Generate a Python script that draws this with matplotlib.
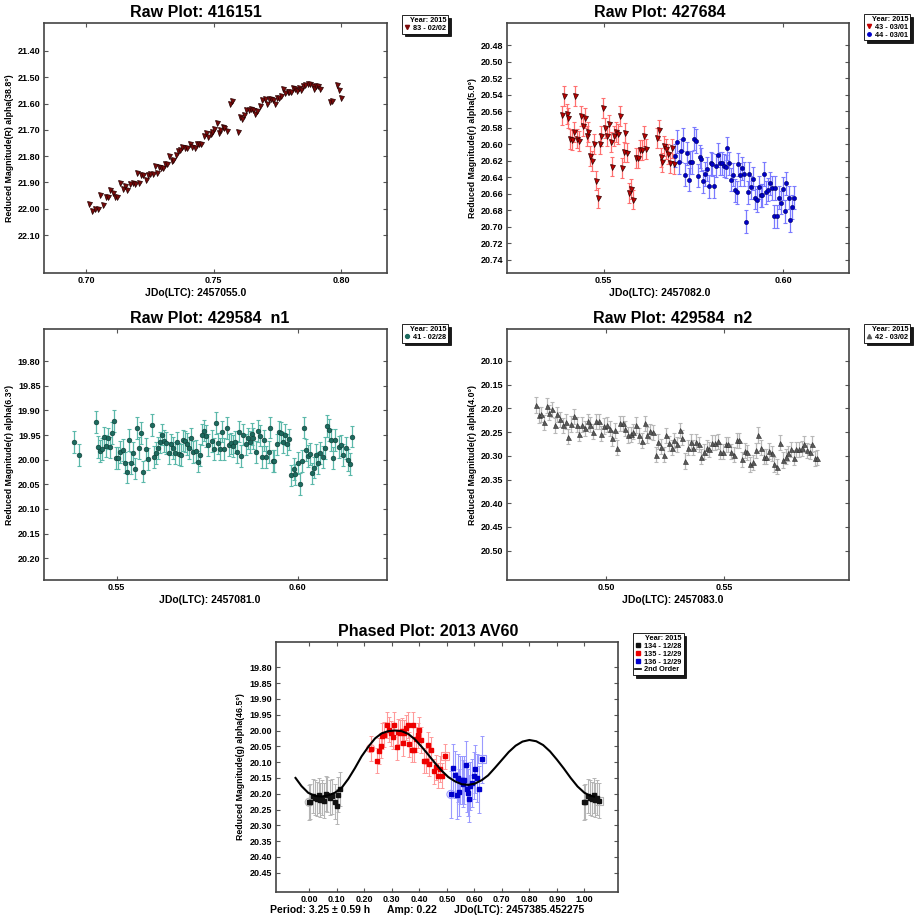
import numpy as np
import matplotlib
matplotlib.use('Agg')
import matplotlib.pyplot as plt
from matplotlib.lines import Line2D

plt.rcParams['font.family'] = ['Liberation Sans', 'DejaVu Sans']
plt.rcParams['font.weight'] = 'bold'
plt.rcParams['axes.labelweight'] = 'bold'
plt.rcParams['axes.titleweight'] = 'bold'

# ---------------- data ----------------
# panel 1 : 416151, session 83 - 02/02
p1_jd = [0.7013, 0.7023, 0.7034, 0.7046, 0.7055, 0.7068, 0.7078, 0.7086, 0.7095, 0.7104,
         0.7114, 0.7123, 0.7133, 0.7144, 0.7153, 0.7159, 0.7172, 0.7183, 0.7192, 0.7201,
         0.7209, 0.7215, 0.7225, 0.7234, 0.7242, 0.7251, 0.7261, 0.7270, 0.7277, 0.7286,
         0.7292, 0.7300, 0.7309, 0.7316, 0.7326, 0.7335, 0.7342, 0.7352, 0.7359, 0.7368,
         0.7376, 0.7388, 0.7397, 0.7407, 0.7416, 0.7426, 0.7433, 0.7443, 0.7452, 0.7461,
         0.7470, 0.7479, 0.7488, 0.7495, 0.7503, 0.7513, 0.7520, 0.7527, 0.7535, 0.7542,
         0.7551, 0.7564, 0.7573, 0.7597, 0.7603, 0.7612, 0.7621, 0.7629, 0.7638, 0.7645,
         0.7655, 0.7663, 0.7671, 0.7681, 0.7689, 0.7700, 0.7708, 0.7718, 0.7726, 0.7734,
         0.7742, 0.7749, 0.7757, 0.7764, 0.7773, 0.7781, 0.7790, 0.7796, 0.7805, 0.7812,
         0.7821, 0.7828, 0.7833, 0.7841, 0.7851, 0.7860, 0.7869, 0.7880, 0.7888, 0.7893,
         0.7901, 0.7910, 0.7919, 0.7956, 0.7966, 0.7982, 0.7990, 0.8000]
p1_mag = [21.983, 22.010, 22.001, 22.001, 21.947, 21.986, 21.955, 21.955, 21.928, 21.940,
          21.955, 21.955, 21.901, 21.926, 21.912, 21.929, 21.905, 21.902, 21.905, 21.864,
          21.902, 21.873, 21.872, 21.892, 21.872, 21.867, 21.867, 21.839, 21.864, 21.841,
          21.845, 21.845, 21.831, 21.829, 21.801, 21.818, 21.816, 21.794, 21.782, 21.778,
          21.766, 21.768, 21.768, 21.753, 21.764, 21.768, 21.753, 21.755, 21.755, 21.725,
          21.712, 21.727, 21.717, 21.708, 21.695, 21.675, 21.711, 21.699, 21.690, 21.693,
          21.706, 21.603, 21.590, 21.708, 21.651, 21.657, 21.645, 21.626, 21.623, 21.621,
          21.626, 21.638, 21.628, 21.611, 21.588, 21.584, 21.603, 21.583, 21.583, 21.588,
          21.600, 21.579, 21.578, 21.570, 21.543, 21.560, 21.557, 21.555, 21.557, 21.542,
          21.545, 21.553, 21.542, 21.550, 21.534, 21.531, 21.527, 21.527, 21.532, 21.543,
          21.534, 21.532, 21.543, 21.594, 21.590, 21.531, 21.547, 21.578]

# panel 2 : 427684, sessions 43 and 44 - 03/01
p2a_jd = [0.5385, 0.5391, 0.5397, 0.5402, 0.5406, 0.5411, 0.5417, 0.5421, 0.5427, 0.5432,
          0.5437, 0.5442, 0.5447, 0.5453, 0.5457, 0.5463, 0.5468, 0.5473, 0.5479, 0.5483,
          0.5490, 0.5494, 0.5499, 0.5505, 0.5509, 0.5515, 0.5520, 0.5524, 0.5530, 0.5535,
          0.5540, 0.5545, 0.5550, 0.5556, 0.5560, 0.5565, 0.5571, 0.5576, 0.5581, 0.5590,
          0.5596, 0.5601, 0.5607, 0.5612, 0.5618, 0.5649, 0.5654, 0.5659, 0.5663, 0.5669,
          0.5673, 0.5679, 0.5684, 0.5690, 0.5695]
p2a_mag = [20.565, 20.541, 20.563, 20.568, 20.594, 20.595, 20.585, 20.541, 20.593, 20.596,
           20.566, 20.578, 20.568, 20.590, 20.585, 20.614, 20.620, 20.600, 20.644, 20.665,
           20.600, 20.590, 20.556, 20.580, 20.590, 20.576, 20.597, 20.627, 20.590, 20.585,
           20.588, 20.566, 20.629, 20.609, 20.586, 20.610, 20.659, 20.654, 20.667, 20.617,
           20.617, 20.607, 20.607, 20.590, 20.606, 20.592, 20.583, 20.616, 20.622, 20.602,
           20.606, 20.612, 20.623, 20.605, 20.624]
p2b_jd = [0.5700, 0.5705, 0.5710, 0.5715, 0.5721, 0.5726, 0.5731, 0.5737, 0.5741, 0.5747,
          0.5752, 0.5757, 0.5763, 0.5767, 0.5772, 0.5777, 0.5783, 0.5788, 0.5792, 0.5799,
          0.5803, 0.5808, 0.5814, 0.5819, 0.5824, 0.5829, 0.5834, 0.5840, 0.5844, 0.5850,
          0.5854, 0.5859, 0.5865, 0.5870, 0.5875, 0.5880, 0.5885, 0.5891, 0.5896, 0.5901,
          0.5905, 0.5911, 0.5917, 0.5921, 0.5927, 0.5932, 0.5937, 0.5942, 0.5947, 0.5952,
          0.5957, 0.5963, 0.5968, 0.5973, 0.5978, 0.5983, 0.5989, 0.5994, 0.5999, 0.6005,
          0.6009, 0.6015, 0.6020, 0.6025, 0.6031]
p2b_mag = [20.614, 20.597, 20.622, 20.608, 20.594, 20.637, 20.611, 20.643, 20.622, 20.622,
           20.593, 20.596, 20.638, 20.615, 20.618, 20.645, 20.636, 20.630, 20.651, 20.623,
           20.624, 20.651, 20.626, 20.613, 20.623, 20.623, 20.626, 20.627, 20.605, 20.623,
           20.643, 20.637, 20.656, 20.658, 20.624, 20.637, 20.629, 20.636, 20.694, 20.658,
           20.636, 20.652, 20.642, 20.665, 20.668, 20.652, 20.662, 20.662, 20.636, 20.658,
           20.655, 20.647, 20.653, 20.687, 20.653, 20.687, 20.665, 20.671, 20.654, 20.681,
           20.647, 20.665, 20.692, 20.676, 20.665]
p2a_err = 0.012
p2b_err = 0.014

# panel 3 : 429584 n1, session 41 - 02/28
p3_jd = [0.5383, 0.5395, 0.5442, 0.5448, 0.5453, 0.5459, 0.5464, 0.5470, 0.5475, 0.5482,
         0.5487, 0.5493, 0.5498, 0.5504, 0.5510, 0.5516, 0.5522, 0.5528, 0.5533, 0.5540,
         0.5545, 0.5550, 0.5557, 0.5562, 0.5568, 0.5574, 0.5580, 0.5586, 0.5597, 0.5602,
         0.5609, 0.5614, 0.5620, 0.5626, 0.5632, 0.5637, 0.5644, 0.5650, 0.5655, 0.5660,
         0.5667, 0.5672, 0.5678, 0.5683, 0.5689, 0.5694, 0.5701, 0.5706, 0.5712, 0.5718,
         0.5724, 0.5729, 0.5735, 0.5741, 0.5747, 0.5752, 0.5764, 0.5770, 0.5775, 0.5781,
         0.5786, 0.5792, 0.5797, 0.5804, 0.5809, 0.5815, 0.5821, 0.5827, 0.5832, 0.5839,
         0.5844, 0.5850, 0.5856, 0.5862, 0.5867, 0.5873, 0.5878, 0.5885, 0.5890, 0.5896,
         0.5902, 0.5908, 0.5913, 0.5920, 0.5925, 0.5931, 0.5936, 0.5943, 0.5948, 0.5954,
         0.5959, 0.5965, 0.5971, 0.5977, 0.5983, 0.5989, 0.5994, 0.6000, 0.6006, 0.6011,
         0.6017, 0.6023, 0.6029, 0.6034, 0.6041, 0.6046, 0.6052, 0.6057, 0.6063, 0.6069,
         0.6075, 0.6080, 0.6087, 0.6092, 0.6098, 0.6103, 0.6115, 0.6121, 0.6126, 0.6133,
         0.6138, 0.6144, 0.6150]
p3_mag = [19.964, 19.991, 19.923, 19.974, 19.982, 19.978, 19.955, 19.972, 19.957, 19.975,
          19.946, 19.921, 19.997, 19.997, 19.985, 19.980, 20.006, 20.026, 19.960, 20.007,
          19.987, 20.018, 19.936, 19.977, 19.946, 20.024, 19.978, 19.999, 19.930, 19.994,
          19.987, 19.977, 19.965, 19.949, 19.962, 19.966, 19.987, 19.969, 19.976, 19.987,
          19.965, 19.989, 19.991, 19.961, 19.963, 19.968, 19.977, 19.957, 19.984, 19.982,
          20.004, 19.991, 19.949, 19.941, 19.952, 19.970, 19.962, 19.978, 19.926, 19.967,
          19.978, 19.943, 19.978, 19.936, 19.970, 19.967, 19.972, 19.964, 19.984, 19.943,
          19.992, 19.949, 19.969, 19.957, 19.964, 19.948, 19.957, 19.985, 19.942, 19.951,
          19.995, 19.961, 19.994, 19.984, 19.935, 20.003, 20.003, 19.969, 19.943, 19.945,
          19.965, 19.949, 19.969, 19.959, 20.032, 20.019, 20.030, 20.007, 20.049, 20.003,
          19.935, 19.980, 19.992, 19.989, 20.028, 20.016, 19.991, 20.007, 19.986, 19.994,
          19.976, 19.932, 19.940, 19.960, 19.997, 19.960, 19.974, 19.971, 19.991, 19.976,
          20.000, 20.009, 19.953]
p3_err = 0.022

# panel 4 : 429584 n2, session 42 - 03/02
p4_jd = [0.4703, 0.4714, 0.4724, 0.4737, 0.4748, 0.4759, 0.4771, 0.4782, 0.4793, 0.4805,
         0.4817, 0.4829, 0.4840, 0.4853, 0.4864, 0.4875, 0.4887, 0.4898, 0.4911, 0.4922,
         0.4933, 0.4945, 0.4956, 0.4969, 0.4980, 0.4992, 0.5003, 0.5016, 0.5025, 0.5037,
         0.5048, 0.5059, 0.5072, 0.5082, 0.5093, 0.5105, 0.5116, 0.5129, 0.5140, 0.5152,
         0.5163, 0.5174, 0.5186, 0.5197, 0.5210, 0.5221, 0.5232, 0.5244, 0.5255, 0.5266,
         0.5278, 0.5289, 0.5300, 0.5313, 0.5324, 0.5336, 0.5347, 0.5358, 0.5370, 0.5381,
         0.5392, 0.5404, 0.5415, 0.5426, 0.5438, 0.5450, 0.5462, 0.5473, 0.5484, 0.5496,
         0.5507, 0.5518, 0.5530, 0.5541, 0.5554, 0.5565, 0.5576, 0.5588, 0.5599, 0.5612,
         0.5623, 0.5635, 0.5646, 0.5657, 0.5669, 0.5680, 0.5691, 0.5703, 0.5714, 0.5725,
         0.5738, 0.5749, 0.5761, 0.5772, 0.5783, 0.5795, 0.5806, 0.5817, 0.5829, 0.5840,
         0.5851, 0.5863, 0.5874, 0.5885, 0.5896]
p4_mag = [20.193, 20.214, 20.212, 20.229, 20.194, 20.209, 20.202, 20.236, 20.212, 20.223,
          20.236, 20.228, 20.260, 20.233, 20.217, 20.234, 20.253, 20.234, 20.242, 20.227,
          20.234, 20.249, 20.227, 20.227, 20.253, 20.237, 20.234, 20.243, 20.263, 20.246,
          20.283, 20.231, 20.231, 20.243, 20.256, 20.255, 20.249, 20.235, 20.257, 20.268,
          20.231, 20.256, 20.248, 20.250, 20.298, 20.270, 20.281, 20.298, 20.257, 20.274,
          20.283, 20.267, 20.276, 20.246, 20.262, 20.311, 20.283, 20.270, 20.283, 20.270,
          20.276, 20.302, 20.291, 20.283, 20.286, 20.272, 20.272, 20.269, 20.291, 20.291,
          20.276, 20.276, 20.291, 20.298, 20.267, 20.267, 20.307, 20.289, 20.293, 20.318,
          20.314, 20.288, 20.256, 20.283, 20.302, 20.302, 20.290, 20.295, 20.318, 20.323,
          20.272, 20.309, 20.302, 20.295, 20.286, 20.304, 20.286, 20.286, 20.284, 20.275,
          20.288, 20.291, 20.275, 20.305, 20.304]
p4_err = 0.016

# panel 5 : phased plot 2013 AV60
black_phase = [0.000, 0.003, 0.012, 0.021, 0.027, 0.034, 0.039, 0.045, 0.054, 0.061,
               0.066, 0.076, 0.084, 0.093, 0.099, 0.105, 0.111]
black_mag = [20.227, 20.225, 20.207, 20.212, 20.217, 20.205, 20.220, 20.212, 20.222, 20.200,
             20.203, 20.212, 20.208, 20.225, 20.240, 20.203, 20.185]
red_phase = [0.223, 0.245, 0.253, 0.261, 0.265, 0.273, 0.284, 0.290, 0.297, 0.303,
             0.308, 0.318, 0.324, 0.330, 0.336, 0.341, 0.345, 0.352, 0.358, 0.364,
             0.372, 0.377, 0.382, 0.387, 0.394, 0.400, 0.405, 0.417, 0.423, 0.430,
             0.435, 0.441, 0.452, 0.459, 0.467, 0.474, 0.481, 0.493]
red_mag = [20.057, 20.096, 20.065, 20.048, 20.017, 20.013, 19.983, 19.997, 20.009, 20.020,
           19.981, 20.053, 20.004, 20.007, 20.001, 20.041, 20.007, 19.991, 19.983, 20.044,
           20.061, 19.981, 20.061, 20.028, 20.015, 19.997, 20.030, 20.095, 20.095, 20.046,
           20.105, 20.061, 20.129, 20.116, 20.143, 20.122, 20.143, 20.082]
blue_phase = [0.515, 0.521, 0.530, 0.536, 0.542, 0.545, 0.548, 0.554, 0.558, 0.562,
              0.568, 0.572, 0.578, 0.582, 0.584, 0.590, 0.599, 0.602, 0.609, 0.617, 0.629]
blue_mag = [20.202, 20.119, 20.140, 20.205, 20.150, 20.196, 20.157, 20.157, 20.168, 20.157,
            20.108, 20.184, 20.197, 20.216, 20.176, 20.166, 20.143, 20.122, 20.150, 20.186, 20.091]
black_err = 0.055
red_err = 0.040
blue_err = 0.075

fit_phase = [-0.050, -0.028, -0.004, 0.021, 0.045, 0.069, 0.093, 0.118, 0.142, 0.166,
             0.190, 0.215, 0.239, 0.263, 0.287, 0.312, 0.336, 0.360, 0.384, 0.408,
             0.433, 0.457, 0.481, 0.505, 0.530, 0.554, 0.578, 0.602, 0.627, 0.650,
             0.675, 0.700, 0.725, 0.750, 0.775, 0.800, 0.825, 0.850, 0.875, 0.900,
             0.925, 0.950, 0.975, 1.000, 1.020, 1.035]
fit_mag = [20.150, 20.176, 20.197, 20.207, 20.209, 20.205, 20.197, 20.181, 20.153, 20.119,
           20.082, 20.051, 20.025, 20.009, 20.002, 20.000, 20.002, 20.011, 20.028, 20.051,
           20.077, 20.103, 20.127, 20.147, 20.161, 20.170, 20.172, 20.168, 20.157, 20.142,
           20.118, 20.093, 20.068, 20.048, 20.035, 20.030, 20.034, 20.046, 20.066, 20.092,
           20.120, 20.150, 20.177, 20.197, 20.206, 20.209]

W, H = 919, 922
fig = plt.figure(figsize=(W / 100, H / 100), dpi=100)


def box(l, t, r, b):
    return fig.add_axes([l / W, 1 - b / H, (r - l) / W, (b - t) / H])


def style(ax, xlim, ylim, xticks, yticks, title, tx, ylabel, xlabel=None):
    ax.set_xlim(xlim)
    ax.set_ylim(ylim)
    ax.set_xticks(xticks)
    ax.set_xticklabels(['%.2f' % v for v in xticks])
    ax.set_yticks(yticks)
    ax.set_yticklabels(['%.2f' % v for v in yticks])
    ax.tick_params(direction='in', top=True, right=True, length=3, width=0.8,
                   labelsize=6.5, pad=2.5, color='#555555')
    for s in ax.spines.values():
        s.set_linewidth(1.2)
        s.set_color('#444444')
    ax.set_title(title, fontsize=11.5, fontweight='heavy', x=tx, pad=4)
    ax.set_ylabel(ylabel, fontsize=6.3)
    ax.yaxis.set_label_coords(-0.088, 0.5)
    if xlabel:
        ax.set_xlabel(xlabel, fontsize=7.5)
        ax.xaxis.set_label_coords(tx, -0.058)


def legend(ax, handles, x, y):
    leg = ax.legend(handles=handles, title='Year: 2015', loc='upper left',
                    bbox_to_anchor=(x / W, 1 - y / H), bbox_transform=fig.transFigure,
                    fontsize=5.3, title_fontsize=5.3, frameon=True, fancybox=False,
                    shadow={'color': 'black', 'alpha': 0.9}, borderpad=0.25,
                    handlelength=0.9, handletextpad=0.4, labelspacing=0.1,
                    borderaxespad=0, alignment='right')
    leg.get_frame().set_edgecolor('black')
    leg.get_frame().set_linewidth(0.6)
    return leg


# ---- panel 1
ax1 = box(44, 23, 387, 273)
ax1.plot(p1_jd, p1_mag, 'v', ms=3.6, color='#7a0a0a', mec='#220000', mew=0.5)
style(ax1, (0.6835, 0.818), (22.244, 21.294), [0.70, 0.75, 0.80],
      np.arange(21.40, 22.15, 0.10), 'Raw Plot: 416151', 0.443,
      'Reduced Magnitude(R) alpha(38.8°)', 'JDo(LTC): 2457055.0')
legend(ax1, [Line2D([], [], marker='v', ls='none', color='#7a0a0a', ms=3, label='83 - 02/02')],
       402, 15)

# ---- panel 2
ax2 = box(507, 23, 849, 273)
ax2.errorbar(p2a_jd, p2a_mag, yerr=p2a_err, fmt='none', ecolor='#ff7070',
             elinewidth=0.9, capsize=1.6, capthick=0.8)
ax2.errorbar(p2b_jd, p2b_mag, yerr=p2b_err, fmt='none', ecolor='#7a7aff',
             elinewidth=0.9, capsize=1.6, capthick=0.8)
ax2.plot(p2a_jd, p2a_mag, 'v', ms=3.6, color='#c00000', mec='#300000', mew=0.5)
ax2.plot(p2b_jd, p2b_mag, 'o', ms=3.0, color='#0000c8', mec='#000060', mew=0.4)
style(ax2, (0.5231, 0.6183), (20.756, 20.453), [0.55, 0.60],
      np.arange(20.48, 20.745, 0.02), 'Raw Plot: 427684', 0.446,
      'Reduced Magnitude(r) alpha(5.0°)', 'JDo(LTC): 2457082.0')
legend(ax2, [Line2D([], [], marker='v', ls='none', color='#c00000', ms=3, label='43 - 03/01'),
             Line2D([], [], marker='o', ls='none', color='#0000c8', ms=2.5, label='44 - 03/01')],
       864, 14)

# ---- panel 3
ax3 = box(44, 329, 387, 580)
ax3.errorbar(p3_jd, p3_mag, yerr=p3_err, fmt='none', ecolor='#5bb8aa',
             elinewidth=0.9, capsize=1.6, capthick=0.8)
ax3.plot(p3_jd, p3_mag, 'o', ms=3.4, color='#1c6a5e', mec='#0d3a33', mew=0.4)
style(ax3, (0.5299, 0.6247), (20.244, 19.735), [0.55, 0.60],
      np.arange(19.80, 20.225, 0.05), 'Raw Plot: 429584  n1', 0.484,
      'Reduced Magnitude(r) alpha(6.3°)', 'JDo(LTC): 2457081.0')
legend(ax3, [Line2D([], [], marker='o', ls='none', color='#1c6a5e', ms=2.8, label='41 - 02/28')],
       402, 324)

# ---- panel 4
ax4 = box(507, 329, 849, 580)
ax4.errorbar(p4_jd, p4_mag, yerr=p4_err, fmt='none', ecolor='#b8b8b8',
             elinewidth=0.9, capsize=1.6, capthick=0.8)
ax4.plot(p4_jd, p4_mag, '^', ms=3.6, color='#595959', mec='#2a2a2a', mew=0.4)
style(ax4, (0.458, 0.603), (20.562, 20.0325), [0.50, 0.55],
      np.arange(20.10, 20.525, 0.05), 'Raw Plot: 429584  n2', 0.484,
      'Reduced Magnitude(r) alpha(4.0°)', 'JDo(LTC): 2457083.0')
legend(ax4, [Line2D([], [], marker='^', ls='none', color='#595959', ms=3, label='42 - 03/02')],
       864, 324)

# ---- panel 5 (phased)
ax5 = box(275.7, 641.7, 617.7, 891.7)
bp = np.array(black_phase)
bm = np.array(black_mag)
wrap = bp < 0.055
bp_all = np.concatenate([bp, bp[wrap] + 1.0])
bm_all = np.concatenate([bm, bm[wrap]])
sessions = [(bp_all, bm_all, black_err, '#111111', '#b5b5b5'),
            (np.array(red_phase), np.array(red_mag), red_err, '#ee0000', '#ff9a9a'),
            (np.array(blue_phase), np.array(blue_mag), blue_err, '#0000cc', '#9a9aff')]
for ph, mg, er, c, ec in sessions:
    ax5.errorbar(ph, mg, yerr=er, fmt='none', ecolor=ec, elinewidth=0.8,
                 capsize=1.4, capthick=0.7)
for ph, mg, er, c, ec in sessions:
    ax5.plot(ph, mg, 's', ms=2.4, color=c, mec=c)
    # first / last point of each session marked
    ax5.scatter([ph[0]], [mg[0]], s=34, marker='o', facecolors='none', edgecolors=ec, lw=0.8)
    ax5.scatter([ph[-1]], [mg[-1]], s=34, marker='s', facecolors='none', edgecolors=ec, lw=0.8)
ax5.plot(fit_phase, fit_mag, '-', color='black', lw=1.5)
style(ax5, (-0.122, 1.121), (20.51, 19.719), np.arange(0.0, 1.05, 0.10),
      np.arange(19.80, 20.475, 0.05), 'Phased Plot: 2013 AV60', 0.445,
      'Reduced Magnitude(g) alpha(46.5°)')
ax5.yaxis.set_label_coords(-0.09, 0.5)
legend(ax5, [Line2D([], [], marker='s', ls='none', color='#111111', ms=2.3, label='134 - 12/28'),
             Line2D([], [], marker='s', ls='none', color='#ee0000', ms=2.3, label='135 - 12/29'),
             Line2D([], [], marker='s', ls='none', color='#0000cc', ms=2.3, label='136 - 12/29'),
             Line2D([], [], ls='-', color='black', lw=1.2, label='2nd Order')],
       633, 633)
fig.text(270 / W, 1 - 910 / H,
         'Period: 3.25 \u00b1 0.59 h      Amp: 0.22      JDo(LTC): 2457385.452275',
         ha='left', va='center', fontsize=7.5, fontweight='bold')

fig.savefig('out.png', dpi=100, facecolor='white')
